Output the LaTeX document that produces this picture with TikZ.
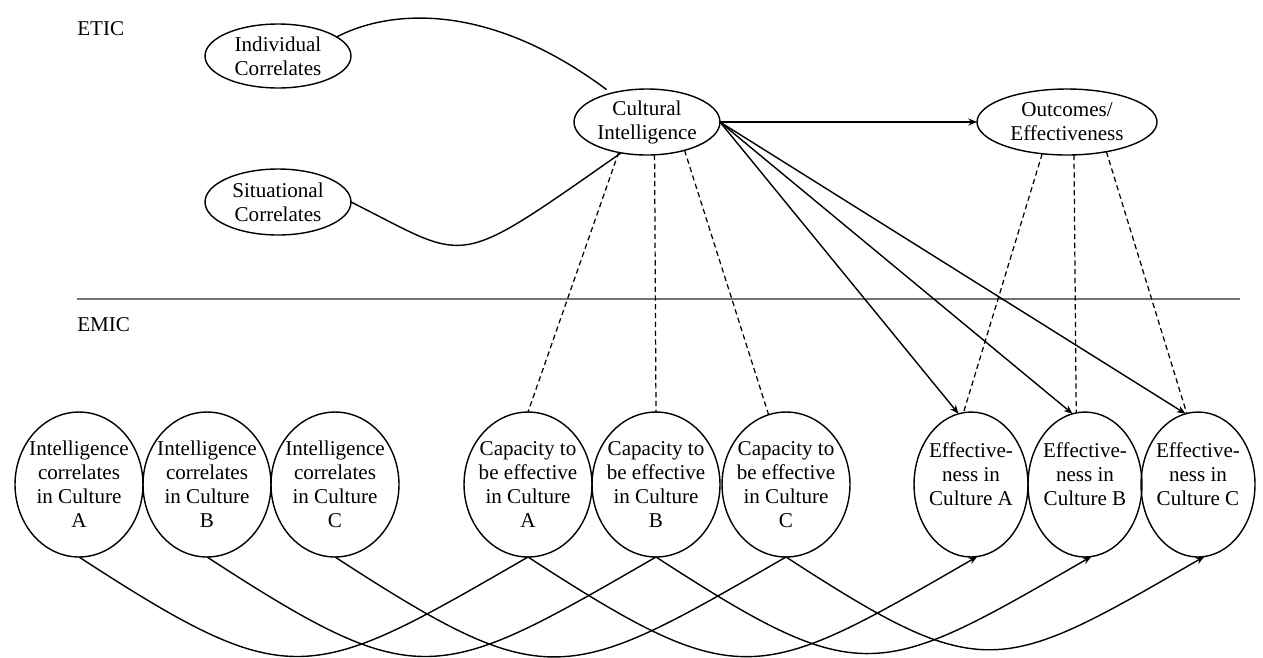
\documentclass[tikz,border=0pt]{standalone}
\usepackage{fontspec}
\setmainfont{Liberation Serif}
\usetikzlibrary{arrows.meta,shapes.geometric}
\begin{document}
\begin{tikzpicture}[x=0.02cm,y=0.02cm,
  every node/.style={font=\fontsize{12}{13.66}\selectfont},
  ov/.style 2 args={draw, line width=0.8pt, ellipse, inner sep=0pt, outer sep=0pt, minimum width=#1, minimum height=#2},
  tx/.style={align=center, inner sep=0pt, font=\fontsize{12}{13.66}\selectfont},
  lbl/.style={anchor=west, inner sep=0pt},
  ln/.style={line width=0.8pt},
  dsh/.style={line width=0.7pt, dash pattern=on 3pt off 2pt},
  arr/.style={-{Stealth[length=5pt,width=4pt]}},
  ucurve/.style={out=-33,in=-150,looseness=1.45},
]
\fill[white] (0,0) rectangle (1263,-657);
\useasboundingbox (0,0) rectangle (1263,-657);

% section labels and divider
\node[lbl] (etic) at (77,-29) {ETIC};
\node[lbl] (emic) at (77,-325) {EMIC};
\coordinate (divL) at (77,-299);
\coordinate (divR) at (1240,-299);
\draw[line width=1.1pt, black!55] (divL) -- (divR);

% etic nodes
\node[ov={2.92cm}{1.28cm}, label={[tx]center:Individual\\Correlates}] (IC) at (278,-56) {};
\node[ov={2.92cm}{1.32cm}, label={[tx]center:Situational\\Correlates}] (SC) at (278,-202) {};
\node[ov={2.92cm}{1.32cm}, label={[tx]center:Cultural\\Intelligence}] (CI) at (647,-122) {};
\node[ov={3.6cm}{1.32cm}, label={[tx]center:Outcomes/\\Effectiveness}] (OE) at (1067,-122) {};

% emic nodes
\node[ov={2.56cm}{2.9cm}, label={[tx]center:Intelligence\\correlates\\in Culture\\A}] (intA) at (79,-484.5) {};
\node[ov={2.56cm}{2.9cm}, label={[tx]center:Intelligence\\correlates\\in Culture\\B}] (intB) at (207,-484.5) {};
\node[ov={2.56cm}{2.9cm}, label={[tx]center:Intelligence\\correlates\\in Culture\\C}] (intC) at (335,-484.5) {};
\node[ov={2.56cm}{2.9cm}, label={[tx]center:Capacity to\\be effective\\in Culture\\A}] (capA) at (528,-484.5) {};
\node[ov={2.56cm}{2.9cm}, label={[tx]center:Capacity to\\be effective\\in Culture\\B}] (capB) at (656,-484.5) {};
\node[ov={2.56cm}{2.9cm}, label={[tx]center:Capacity to\\be effective\\in Culture\\C}] (capC) at (786,-484.5) {};
\node[ov={2.28cm}{2.9cm}, label={[tx,yshift=0.2cm]center:Effective-\\ness in\\Culture A}] (effA) at (971,-484.5) {};
\node[ov={2.28cm}{2.9cm}, label={[tx,yshift=0.2cm]center:Effective-\\ness in\\Culture B}] (effB) at (1085,-484.5) {};
\node[ov={2.28cm}{2.9cm}, label={[tx,yshift=0.2cm]center:Effective-\\ness in\\Culture C}] (effC) at (1198,-484.5) {};

% correlates to cultural intelligence
\draw[ln, shorten >=3.4pt] (IC.18) .. controls +(52,27) and +(-125,93) .. (CI.141);
\draw[ln] (SC.east) .. controls +(120,-60) and +(-170,-119) .. (CI.230);

% solid arrows
\draw[ln,arr] (CI.east) -- (OE.west);
\draw[ln,arr] (CI.east) -- (effA.100);
\draw[ln,arr] (CI.east) -- (effB.100);
\draw[ln,arr] (CI.east) -- (effC.100);

% dashed links
\draw[dsh] (CI.227) -- (capA.north);
\draw[dsh] (CI.283) -- (capB.north);
\draw[dsh] (CI.323) -- (capC.104);
\draw[dsh] (OE.232) -- (effA.96);
\draw[dsh] (OE.282) -- (effB.97);
\draw[dsh] (OE.323) -- (effC.99);

% bottom curves
\draw[ln] (intA.south) to[ucurve] (capA.south);
\draw[ln] (intB.south) to[ucurve] (capB.south);
\draw[ln] (intC.south) to[ucurve] (capC.south);
\draw[ln,arr] (capA.south) to[ucurve] (effA.275);
\draw[ln,arr] (capB.south) to[ucurve] (effB.275);
\draw[ln,arr] (capC.south) to[ucurve] (effC.275);
\end{tikzpicture}
\end{document}
